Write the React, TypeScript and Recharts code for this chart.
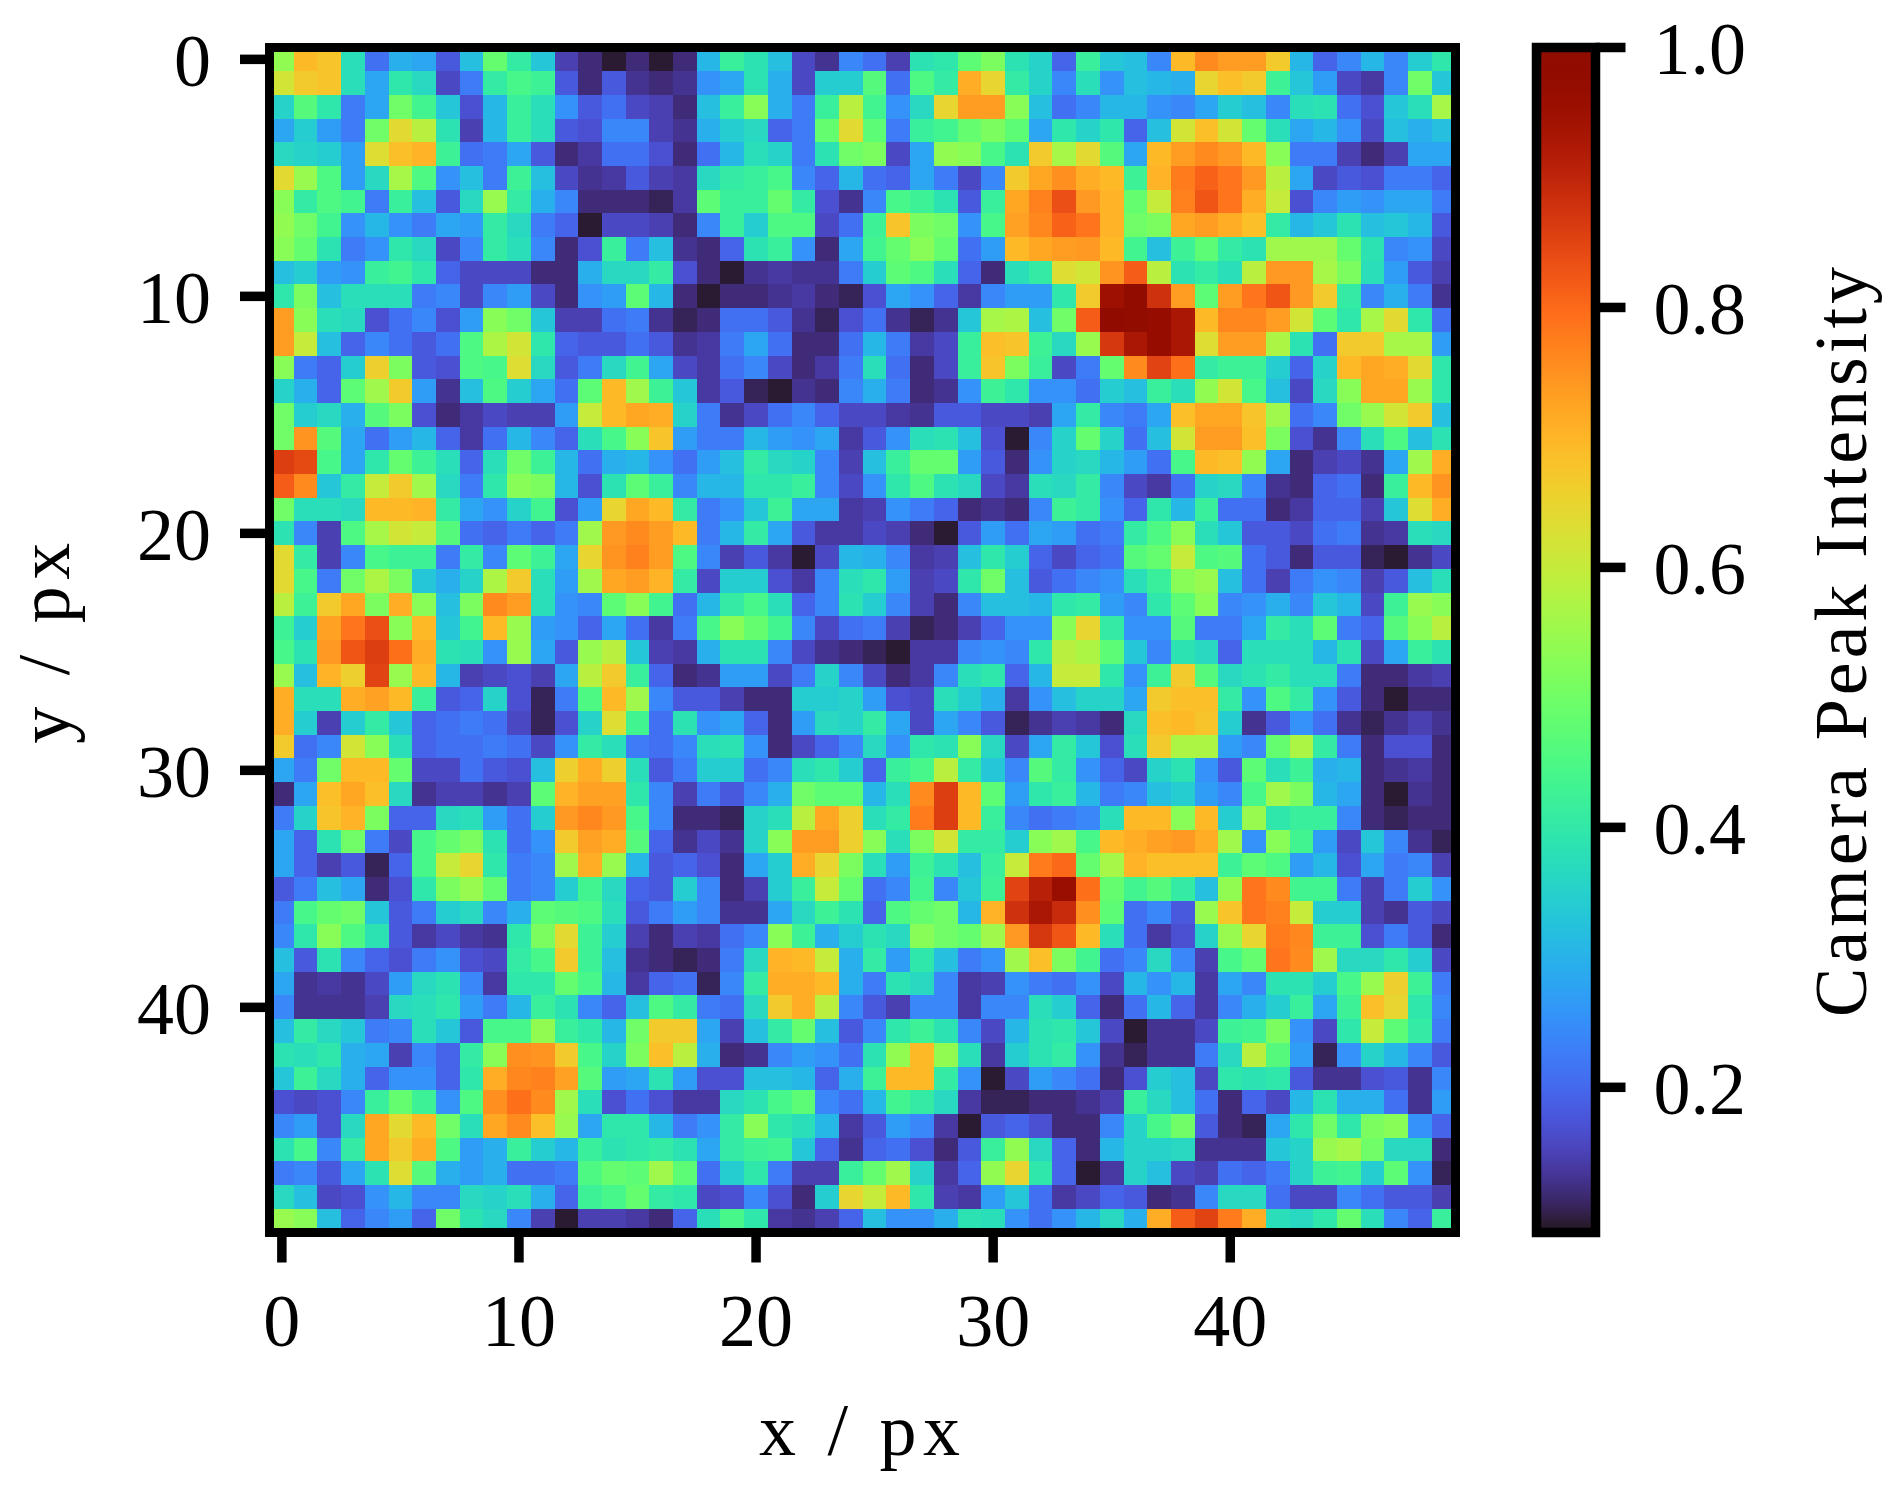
import {
  Bar,
  BarChart,
  Label,
  Scatter,
  ScatterChart,
  XAxis,
  YAxis,
} from 'recharts'

// colour level of each pixel
const levelRows: number[][] = [
  [48,63,61,33,20,26,25,18,28,44,36,29,15,12,10,12,10,12,27,37,34,28,16,13,22,20,15,34,35,43,46,34,31,19,37,29,28,22,63,72,68,68,60,27,19,22,27,22,30,35],
  [55,60,61,33,25,35,32,16,21,36,40,38,18,12,18,13,12,13,23,25,34,26,16,30,30,42,20,41,36,65,58,36,31,22,33,23,28,27,26,58,62,60,38,29,24,16,14,22,45,29],
  [31,42,35,21,25,45,39,29,17,27,37,33,23,18,20,16,15,12,28,37,47,26,21,37,53,39,23,32,58,68,68,47,28,20,22,27,27,23,22,25,30,28,22,33,34,20,17,29,33,51],
  [25,30,24,21,45,57,53,34,15,27,37,33,18,17,22,22,15,13,26,30,32,19,21,44,57,43,21,37,39,44,46,43,25,35,31,35,19,28,55,62,55,44,33,25,27,23,16,28,26,28],
  [32,31,30,24,56,62,64,38,20,21,25,18,12,14,20,20,17,12,20,27,33,31,21,34,45,46,16,25,48,47,40,34,60,51,57,42,25,63,68,72,69,63,47,21,21,15,12,15,25,25],
  [57,49,41,24,32,51,41,23,28,21,38,28,16,13,14,18,15,14,32,36,37,40,22,19,27,20,19,25,21,16,22,60,66,71,65,63,38,64,75,79,76,69,53,25,16,18,17,21,21,19],
  [47,36,41,39,21,37,28,18,32,49,36,26,22,12,12,12,11,14,43,37,37,44,36,17,13,22,40,38,34,18,37,66,74,82,69,64,44,54,74,81,76,65,54,17,22,24,23,25,25,21],
  [48,45,39,23,27,23,21,25,24,36,32,21,19,10,16,16,15,12,22,37,30,41,41,16,20,38,61,46,45,23,40,67,73,79,76,64,45,46,66,68,65,62,36,27,29,34,28,29,27,18],
  [47,44,34,21,23,35,32,16,22,36,33,22,12,17,37,21,28,13,12,19,34,37,23,12,25,39,44,47,44,20,24,63,66,68,69,63,39,28,38,43,36,34,50,50,50,44,34,22,23,16],
  [28,30,24,23,37,39,35,19,16,16,16,12,12,26,32,32,36,17,12,10,13,14,13,13,21,30,43,41,33,19,12,33,36,56,55,70,80,53,34,36,33,53,69,69,51,46,33,24,18,15],
  [35,46,28,33,33,33,21,22,16,22,24,16,12,23,24,43,27,12,10,12,12,13,14,12,11,17,25,23,19,14,22,24,24,35,60,94,100,87,68,43,68,76,81,69,60,36,22,26,21,13],
  [68,47,33,32,17,20,22,17,24,47,45,29,15,15,20,21,13,11,12,20,20,18,13,11,17,20,13,11,13,29,51,52,28,45,80,98,100,96,92,63,73,73,68,55,43,35,51,57,35,20],
  [68,54,28,19,22,20,18,20,41,52,55,35,19,18,18,20,18,13,14,21,25,20,12,12,20,27,21,14,16,37,62,61,38,32,49,86,92,96,92,56,68,68,52,34,20,60,60,51,51,24],
  [47,21,19,30,59,46,18,17,41,40,56,32,18,21,32,39,25,16,14,20,22,16,12,14,21,33,20,12,16,37,61,46,37,16,21,44,72,84,77,36,38,38,30,19,31,63,66,65,57,35],
  [31,26,19,43,50,60,24,13,28,41,30,25,20,43,63,50,38,29,14,18,11,10,13,12,22,26,21,12,13,23,38,35,23,23,20,30,28,37,33,48,55,40,28,16,32,47,66,66,49,35],
  [45,30,32,26,42,46,17,12,14,16,15,15,24,54,63,66,65,31,21,13,16,20,22,19,16,16,14,13,18,18,16,16,15,25,36,22,21,25,62,66,66,61,50,20,22,45,49,55,60,28],
  [45,70,42,25,20,24,27,19,14,20,27,22,19,33,40,47,61,24,21,21,27,24,23,25,14,18,23,33,34,28,17,10,22,31,44,31,20,28,55,68,68,62,46,17,13,22,33,41,28,34],
  [85,83,40,25,35,44,38,33,19,33,45,38,27,20,26,27,23,20,24,28,36,32,31,22,15,28,37,44,44,24,18,12,23,31,32,27,24,20,40,63,62,48,25,12,15,16,13,25,50,65],
  [80,72,29,36,54,60,50,32,21,35,47,46,27,17,34,43,37,22,27,27,35,35,37,22,16,23,35,41,34,32,16,14,33,32,36,22,16,14,20,31,32,22,13,12,19,20,12,37,63,70],
  [45,33,33,32,63,63,64,36,25,23,31,39,17,24,58,66,63,36,21,23,29,38,25,25,14,15,23,21,19,12,13,12,22,38,36,23,19,35,27,37,20,20,12,14,19,19,15,29,56,65],
  [34,22,15,41,51,55,54,42,20,19,21,19,21,50,69,72,68,63,21,27,36,25,18,14,14,16,15,12,10,18,24,20,25,24,20,21,36,41,47,33,29,18,18,16,20,21,13,14,33,32],
  [57,36,15,22,40,38,38,21,36,22,43,38,25,58,70,74,68,41,22,15,18,14,10,16,27,26,22,14,15,28,35,30,19,16,19,20,42,44,54,41,42,20,18,12,18,18,11,10,13,16],
  [57,40,21,45,52,46,29,26,31,52,60,33,24,50,66,68,64,36,16,30,30,17,14,22,33,35,24,15,16,35,45,28,18,20,22,23,33,37,47,49,28,20,15,21,23,22,15,18,28,33],
  [53,38,60,66,46,65,47,28,46,72,68,33,23,22,43,47,39,20,27,36,40,33,19,22,34,30,22,15,12,22,28,28,27,35,36,24,22,35,43,47,22,23,26,22,29,27,16,38,49,47],
  [38,30,67,76,82,47,63,29,39,63,49,24,23,19,25,20,14,21,40,47,44,39,22,16,20,21,15,11,12,15,19,23,23,47,58,36,23,23,42,21,21,25,36,33,43,21,19,42,47,53],
  [40,34,69,81,85,77,65,34,33,23,49,25,18,49,53,29,15,14,26,34,34,22,16,13,12,11,10,14,14,22,23,22,35,53,52,43,29,22,34,32,19,33,33,33,27,34,16,25,37,34],
  [49,28,64,59,84,49,63,27,15,16,17,15,25,53,60,37,19,12,13,24,24,16,21,31,22,16,12,14,22,33,35,19,27,54,54,35,23,38,60,42,32,34,36,33,33,21,12,12,14,15],
  [65,33,33,65,67,63,37,18,19,31,17,11,21,41,63,50,22,18,18,15,12,12,30,30,31,24,17,16,33,30,26,14,23,28,31,31,25,60,62,62,36,23,41,36,23,18,12,10,12,12],
  [65,30,15,30,36,29,19,20,21,20,16,11,17,31,56,39,20,34,23,25,19,12,24,32,31,36,25,16,25,22,18,11,13,15,14,12,32,62,63,61,30,13,18,23,20,13,11,13,15,13],
  [60,20,22,55,47,33,19,20,20,21,20,16,23,36,33,21,20,22,33,34,23,12,16,19,22,32,23,35,34,47,32,16,25,36,29,17,33,60,52,52,24,22,44,52,36,21,12,17,17,12],
  [25,21,45,63,63,44,16,16,20,18,17,28,59,65,59,33,18,21,30,30,20,22,33,35,30,19,37,40,53,36,29,22,42,36,23,19,16,31,34,23,18,43,33,38,26,27,12,13,14,12],
  [12,25,62,66,62,32,13,15,15,13,15,43,64,67,67,35,22,15,21,18,22,26,45,43,43,27,33,72,85,63,43,24,35,37,27,21,22,28,30,24,22,40,50,46,27,25,12,10,13,12],
  [21,31,61,64,46,19,19,32,33,24,20,30,69,73,69,40,22,12,12,11,31,33,53,66,59,33,36,75,85,63,37,22,20,21,22,33,63,63,47,63,30,49,35,37,37,22,12,11,12,12],
  [25,19,34,45,21,16,40,44,46,34,20,23,60,67,65,42,19,13,16,13,31,47,68,68,59,47,33,46,55,36,36,30,47,50,40,63,65,67,69,65,50,23,47,39,24,16,29,22,13,11],
  [25,19,15,18,11,19,40,54,58,35,21,22,50,65,49,27,18,19,17,12,25,30,65,58,46,33,24,38,34,28,37,54,75,78,44,51,64,62,62,62,38,43,41,24,27,17,25,21,22,15],
  [18,21,28,25,12,17,35,46,49,44,21,22,30,39,32,19,18,30,22,12,15,30,37,54,44,20,22,39,22,29,38,84,90,95,77,44,39,42,36,28,48,76,72,39,39,21,15,21,30,23],
  [21,40,44,45,29,18,21,30,32,22,26,43,42,41,33,18,21,24,22,13,13,25,32,38,34,19,41,44,45,27,64,87,92,88,71,43,20,22,18,49,61,76,74,54,30,30,15,13,18,16],
  [22,35,47,41,34,18,14,16,14,13,35,46,57,38,30,15,12,15,14,20,22,47,38,26,30,34,32,47,45,44,50,69,86,81,63,33,20,14,17,31,49,58,75,73,38,38,17,21,18,12],
  [28,18,34,22,19,17,21,23,17,16,36,40,60,38,28,13,12,11,12,21,32,64,63,54,26,36,24,35,28,21,23,50,62,46,39,20,22,32,22,15,40,44,76,72,50,32,32,35,30,16],
  [25,13,14,13,16,24,32,34,22,14,35,35,44,40,27,14,19,20,11,22,36,65,65,63,26,21,34,32,22,14,15,23,21,20,23,16,27,23,27,14,25,22,34,34,30,40,49,59,38,21],
  [22,13,13,13,15,32,33,35,24,21,27,37,34,22,19,28,41,36,21,20,32,60,65,53,22,18,15,22,22,14,22,22,33,30,19,12,20,27,19,14,22,26,30,37,25,38,62,58,35,22],
  [28,36,32,29,21,22,33,29,18,40,40,48,37,35,27,45,60,60,25,15,28,36,44,28,18,22,35,38,34,22,16,27,34,35,29,16,10,13,13,16,38,39,46,23,16,35,54,43,36,21],
  [34,33,35,26,25,15,22,19,36,47,71,70,60,40,31,46,62,53,26,12,13,22,24,23,20,34,48,63,48,33,14,30,34,36,23,13,11,13,13,21,32,53,42,24,11,23,31,27,22,18],
  [29,38,32,26,19,23,23,19,35,65,73,74,67,42,24,25,34,24,17,17,28,28,27,19,26,38,63,63,36,23,10,16,24,22,20,12,17,30,28,16,35,34,35,18,13,13,17,18,13,22],
  [17,16,17,22,37,44,38,23,41,71,77,72,50,33,17,20,17,14,14,32,34,40,43,22,20,27,39,36,32,14,11,11,12,12,13,15,37,32,28,20,12,19,16,27,34,26,26,20,13,24],
  [22,24,17,32,66,57,63,45,33,66,72,62,49,25,35,35,27,21,23,36,47,35,33,27,14,18,24,22,14,10,18,19,17,12,12,22,31,40,45,18,12,11,25,35,45,35,46,47,23,19],
  [34,40,22,36,66,60,65,41,24,26,37,30,27,37,34,35,36,34,25,36,38,39,29,19,13,19,20,17,12,18,37,48,32,19,12,27,31,31,32,13,13,13,29,31,49,51,45,32,32,12],
  [21,22,18,25,34,56,42,26,24,26,20,20,21,41,44,43,50,43,20,30,35,21,15,15,37,44,50,31,14,19,48,58,35,19,10,14,31,28,16,15,20,19,21,31,38,39,30,43,23,11],
  [32,28,16,17,23,27,22,22,32,31,33,26,19,38,40,44,36,35,16,17,22,17,12,30,58,54,63,35,15,14,24,29,20,14,16,19,18,12,13,22,32,32,20,16,16,22,20,18,18,15],
  [49,47,28,19,22,24,19,45,34,32,22,15,10,15,15,14,12,19,33,40,35,14,13,15,19,28,23,23,26,34,33,23,20,23,27,32,26,65,80,84,75,65,33,32,35,44,33,22,19,37],
]

// my colour levels against the intensity the colour bar gives for that colour
const levelStops = [0, 10, 12.5, 15, 18, 21, 24, 27, 30, 33.5, 37, 41, 44.5, 47.5, 52, 56, 60, 63, 65.5, 69, 73, 76.5, 81, 85.5, 90, 94.5, 100]
const intensityStops = [0.088, 0.095, 0.125, 0.147, 0.18, 0.225, 0.27, 0.307, 0.343, 0.38, 0.416, 0.453, 0.49, 0.535, 0.57, 0.63, 0.667, 0.695, 0.717, 0.74, 0.763, 0.79, 0.827, 0.863, 0.909, 0.954, 1]

const pixelTicks = [0, 10, 20, 30, 40]
const colorbarTicks = [0.2, 0.4, 0.6, 0.8, 1.0]
const colorMin = 0.0883
const colorMax = 1.0

const CELL = 1185.5 / 50
const FONT = '"Liberation Serif", serif'
const FONT_SIZE = 74
const SPINE = 9.5

function levelToIntensity(level: number): number {
  const i = levelStops.findIndex((s) => s >= level)
  if (i <= 0) return intensityStops[0]
  const f = (level - levelStops[i - 1]) / (levelStops[i] - levelStops[i - 1])
  return intensityStops[i - 1] + f * (intensityStops[i] - intensityStops[i - 1])
}

// turbo colormap, polynomial fit
function turbo(t: number): string {
  const x = Math.min(1, Math.max(0, t))
  const r = 0.13572138 + x * (4.6153926 + x * (-42.66032258 + x * (132.13108234 + x * (-152.94239396 + x * 59.28637943))))
  const g = 0.09140261 + x * (2.19418839 + x * (4.84296658 + x * (-14.18503333 + x * (4.27729857 + x * 2.82956604))))
  const b = 0.1066733 + x * (12.64194608 + x * (-60.58204836 + x * (110.36276771 + x * (-89.90310912 + x * 27.34824973))))
  const to8 = (c: number) => Math.round(Math.min(1, Math.max(0, c)) * 255)
  return `rgb(${to8(r)},${to8(g)},${to8(b)})`
}

const cells = levelRows.flatMap((row, y) =>
  row.map((level, x) => ({ x, y, value: levelToIntensity(level) })),
)

const colorbarData = [{ name: 'intensity', range: [colorMin, colorMax] }]
const gradientStops = Array.from({ length: 41 }, (_, i) => i / 40)

function HeatCell(props: any) {
  const { cx, cy, payload } = props
  return (
    <rect
      x={cx - CELL / 2}
      y={cy - CELL / 2}
      width={CELL}
      height={CELL}
      fill={turbo((payload.value - colorMin) / (colorMax - colorMin))}
      shapeRendering="crispEdges"
    />
  )
}

const tickStyle = { fontSize: FONT_SIZE, fontFamily: FONT, fill: '#000' }
const tickLine = { stroke: '#000', strokeWidth: SPINE }
const titleStyle = { fontSize: FONT_SIZE, fontFamily: FONT, fill: '#000', textAnchor: 'middle' as const }

export default function App() {
  return (
    <div style={{ position: 'absolute', left: 0, top: 0, width: 1899, height: 1495, background: '#fff' }}>
      <div style={{ position: 'absolute', left: 0, top: 0 }}>
        <ScatterChart width={1500} height={1495} margin={{ top: 47.5, right: 44.5, bottom: 0, left: 0 }}>
          <XAxis
            type="number"
            dataKey="x"
            domain={[-0.5, 49.5]}
            ticks={pixelTicks}
            interval={0}
            height={262.5}
            tick={tickStyle}
            tickSize={30}
            tickMargin={31}
            axisLine={false}
            tickLine={tickLine}
            allowDataOverflow
          >
            <Label value="x / px" position="insideBottom" offset={40} style={{ ...titleStyle, letterSpacing: 6.5 }} />
          </XAxis>
          <YAxis
            type="number"
            dataKey="y"
            reversed
            domain={[-0.5, 49.5]}
            ticks={pixelTicks}
            interval={0}
            width={270}
            tick={tickStyle}
            tickSize={30}
            tickMargin={29}
            axisLine={false}
            tickLine={tickLine}
            allowDataOverflow
          >
            <Label value="y / px" angle={-90} position="insideLeft" offset={43} style={{ ...titleStyle, letterSpacing: 6.5 }} />
          </YAxis>
          <Scatter data={cells} shape={HeatCell} isAnimationActive={false} />
        </ScatterChart>
      </div>
      {/* spines sit over the cells, as in imshow */}
      <div
        style={{
          position: 'absolute',
          left: 265,
          top: 43,
          width: 1195,
          height: 1194,
          boxSizing: 'border-box',
          border: `${SPINE}px solid #000`,
        }}
      />
      <div style={{ position: 'absolute', left: 1500, top: 0 }}>
        <BarChart
          width={399}
          height={1495}
          data={colorbarData}
          barCategoryGap={0}
          margin={{ top: 47.5, right: 0, bottom: 262.5, left: 36.5 }}
        >
          <defs>
            <linearGradient id="turboBar" x1="0" y1="1" x2="0" y2="0">
              {gradientStops.map((t) => (
                <stop key={t} offset={t} stopColor={turbo(t)} />
              ))}
            </linearGradient>
          </defs>
          <XAxis dataKey="name" hide />
          <YAxis
            orientation="right"
            type="number"
            domain={[colorMin, colorMax]}
            ticks={colorbarTicks}
            interval={0}
            width={303.5}
            tick={tickStyle}
            tickFormatter={(v: number) => v.toFixed(1)}
            tickSize={30}
            tickMargin={28}
            axisLine={false}
            tickLine={tickLine}
          >
            <Label value="Camera Peak Intensity" angle={-90} position="insideRight" offset={59} style={{ ...titleStyle, letterSpacing: 4 }} />
          </YAxis>
          <Bar dataKey="range" fill="url(#turboBar)" stroke="#000" strokeWidth={SPINE} isAnimationActive={false} />
        </BarChart>
      </div>
    </div>
  )
}
